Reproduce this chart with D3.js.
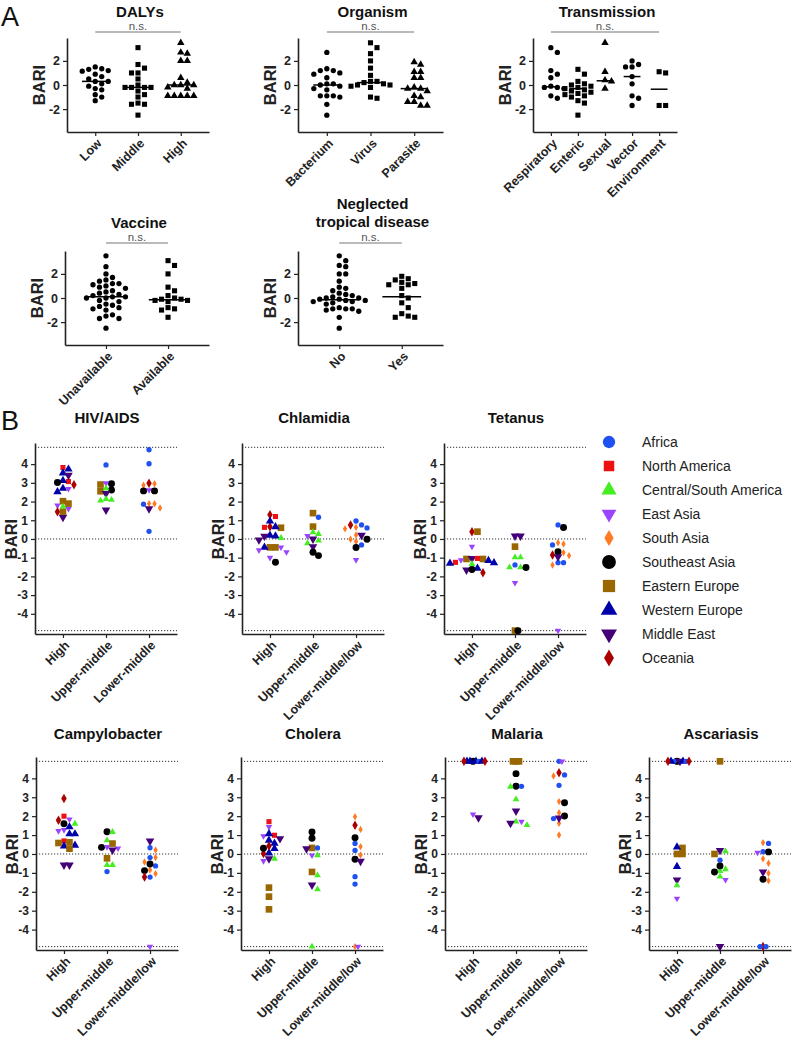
<!DOCTYPE html>
<html><head><meta charset="utf-8">
<script src="https://cdn.jsdelivr.net/npm/d3@7"></script>
<style>
body{margin:0;background:#fff}
svg{display:block}
text{font-family:"Liberation Sans",Arial,Helvetica,sans-serif}
</style>
</head><body>
<svg id="chart" width="800" height="1045"></svg>
<script>
// ---------------- Panel A data ----------------
const dalysCats = ["Low","Middle","High"];
const dalysLow = [1.5,1.35,1.3,1.2,1.15,0.9,0.7,0.5,0.3,0.3,0.1,-0.1,-0.3,-0.4,-0.8,-1.0,-1.3];
const dalysMiddle = [3.1,1.7,1.4,1.0,1.0,0.5,0.0,-0.2,-0.2,-0.2,-0.2,-0.5,-0.8,-1.0,-1.5,-1.6,-1.6,-2.5];
const dalysHigh = [3.5,2.7,2.6,2.0,2.0,0.6,0.2,0.0,0.0,0.0,-0.2,-0.3,-0.9,-0.9,-0.9,-0.9,-0.9];
const dalysMedians = [0.3,-0.2,0.0];

const organismCats = ["Bacterium","Virus","Parasite"];
const organismBacterium = [2.7,1.35,1.2,1.2,1.0,0.9,0.6,0.1,0.1,0.0,-0.1,-0.3,-0.4,-0.9,-0.9,-0.9,-1.0,-1.6,-2.5];
const organismVirus = [3.5,3.1,2.6,2.0,1.4,0.8,0.3,0.3,0.2,0.1,0.0,0.0,-0.1,-0.2,-1.0,-1.1];
const organismParasite = [1.9,1.7,1.1,1.1,0.6,0.6,-0.2,-0.3,-0.3,-0.5,-0.9,-1.0,-1.4,-1.4,-1.7,-1.7];
const organismMedians = [0.0,0.2,-0.3];

const transCats = ["Respiratory","Enteric","Sexual","Vector","Environment"];
const transRespiratory = [3.1,2.7,1.2,0.9,0.6,-0.1,-0.2,-0.2,-0.3,-0.9,-1.1];
const transEnteric = [1.3,0.9,0.3,0.1,0.0,-0.1,-0.2,-0.3,-0.4,-0.5,-0.6,-0.7,-0.8,-0.9,-1.0,-1.3,-1.5,-2.5];
const transSexual = [3.5,1.1,0.4,0.3,-0.3];
const transVector = [2.0,1.7,1.5,1.5,0.7,0.1,-0.9,-1.1,-1.7];
const transEnvironment = [1.1,1.0,-1.7,-1.7];
const transMedians = [-0.15,-0.3,0.35,0.7,-0.35];

const vaccineCats = ["Unavailable","Available"];
const vaccineUnavailable = [3.5,2.6,2.0,1.7,1.5,1.4,1.2,1.2,1.1,1.0,0.9,0.8,0.6,0.5,0.4,0.3,0.2,0.1,0.1,0.0,0.0,-0.2,-0.3,-0.5,-0.6,-0.7,-0.8,-0.9,-1.0,-1.4,-1.5,-1.7,-1.7,-2.5];
const vaccineAvailable = [3.1,2.7,2.0,0.9,0.6,0.2,0.0,-0.1,-0.1,-0.2,-0.2,-0.3,-0.8,-0.9,-1.0,-1.6];
const vaccineMedians = [0.1,-0.15];

const ntdCats = ["No","Yes"];
const ntdNo = [3.5,3.1,2.7,2.6,2.0,2.0,1.4,0.9,0.8,0.6,0.4,0.3,0.2,0.1,0.0,0.0,-0.1,-0.1,-0.2,-0.2,-0.3,-0.3,-0.4,-0.5,-0.8,-0.9,-0.9,-0.9,-1.0,-1.1,-1.6,-2.5];
const ntdYes = [1.8,1.6,1.5,1.3,1.2,1.1,1.1,0.8,0.2,0.0,-0.4,-0.8,-1.3,-1.5,-1.6,-1.6];
const ntdMedians = [-0.15,0.1];

const aTicks = [-2,0,2];

// ---------------- Panel B data ----------------
const regionCodes = ["AF","NA","CSA","EA","SA","SEA","EE","WE","ME","OC"];
const regionNames = ["Africa","North America","Central/South America","East Asia","South Asia","Southeast Asia","Eastern Europe","Western Europe","Middle East","Oceania"];
const regionColors = ["#1f50f0","#ee1111","#44ee22","#9a44ff","#ff7a22","#000000","#996600","#0000aa","#440077","#aa0000"];
const bTicks = [-4,-3,-2,-1,0,1,2,3,4];
const bLimits = [-4.9,0,4.9];
const incomeCatsHiv = ["High","Upper-middle","Lower-middle"];
const incomeCats = ["High","Upper-middle","Lower-middle/low"];

const hivHigh = [["NA",3.82],["NA",3.07],["WE",3.73],["WE",3.52],["WE",3.12],["WE",2.7],["WE",2.52],["ME",3.41],["ME",1.16],["EA",2.68],["EA",1.79],["EA",1.61],["SEA",3.02],["OC",2.9],["OC",1.45],["EE",2.02],["EE",1.89],["EE",1.46],["CSA",1.73]];
const hivUpper = [["AF",3.96],["SEA",2.95],["SEA",2.62],["EE",2.91],["EE",2.55],["EA",2.98],["ME",2.43],["ME",1.55],["CSA",2.7],["CSA",2.09],["CSA",2.05],["CSA",2.14]];
const hivLower = [["AF",4.77],["AF",4.02],["AF",1.86],["AF",0.41],["SA",2.95],["SA",2.87],["SA",1.88],["SA",1.66],["SA",1.89],["OC",2.98],["EA",2.61],["SEA",2.57],["SEA",2.57],["ME",1.62]];

const chlamHigh = [["NA",1.2],["NA",0.62],["OC",1.3],["OC",0.65],["EE",0.6],["EE",-0.45],["EE",-0.45],["WE",0.95],["WE",0.65],["WE",0.2],["WE",0.15],["WE",-0.45],["ME",0.15],["ME",-0.05],["EA",-0.45],["EA",-0.6],["EA",-0.7],["EA",-1.0],["SEA",-1.25],["CSA",0.05]];
const chlamUpper = [["EE",1.38],["EE",0.66],["AF",1.16],["EA",0.16],["CSA",0.36],["CSA",0.27],["CSA",-0.09],["CSA",-0.23],["ME",0.0],["ME",-0.41],["SEA",-0.89],["SEA",-0.71]];
const chlamLower = [["AF",0.75],["AF",0.96],["AF",0.59],["AF",-0.32],["SA",0.62],["SA",0.54],["SA",0.21],["SA",-0.02],["SA",-0.14],["OC",0.75],["ME",0.2],["SEA",-0.02],["SEA",-0.46],["EA",-1.12]];

const tetHigh = [["OC",0.39],["OC",-1.8],["EE",0.39],["EE",-1.07],["EE",-1.07],["EA",-0.41],["EA",-1.13],["ME",-1.04],["ME",-1.66],["NA",-1.04],["NA",-1.25],["WE",-1.16],["WE",-1.27],["WE",-1.3],["WE",-1.57],["CSA",-1.34],["SEA",-1.63]];
const tetUpper = [["ME",0.16],["ME",0.16],["EE",-0.41],["EE",-4.9],["CSA",-0.98],["CSA",-0.98],["CSA",-1.52],["CSA",-1.52],["SEA",-1.52],["SEA",-4.9],["AF",-1.39],["EA",-2.34]];
const tetLower = [["SEA",0.61],["SEA",-0.68],["AF",0.75],["AF",-0.32],["AF",-1.27],["AF",-1.27],["SA",-0.27],["SA",-0.2],["SA",-0.73],["SA",-0.89],["SA",-1.39],["OC",-0.86],["ME",-0.95],["EA",-4.9]];

const campyHigh = [["OC",2.93],["OC",1.78],["NA",2.0],["NA",0.69],["EA",1.83],["EA",1.27],["EA",1.22],["SEA",1.6],["CSA",1.6],["WE",1.43],["WE",1.06],["WE",1.06],["WE",0.42],["WE",0.46],["EE",0.58],["EE",0.62],["EE",0.28],["ME",-0.58],["ME",-0.58]];
const campyUpper = [["SEA",1.18],["SEA",0.35],["CSA",1.16],["CSA",0.72],["CSA",-0.58],["CSA",-0.58],["EE",0.55],["EE",-0.23],["EA",0.37],["EA",0.3],["ME",0.21],["AF",-0.93]];
const campyLower = [["ME",0.69],["AF",0.33],["AF",-0.19],["AF",-0.63],["AF",-1.22],["SA",0.21],["SA",-0.19],["SA",-0.42],["SA",-0.85],["SA",-1.04],["SEA",-0.53],["SEA",-0.88],["OC",-1.22],["EA",-4.9]];

const cholHigh = [["NA",1.71],["NA",0.99],["EA",1.43],["EA",0.95],["EA",-0.37],["WE",1.07],["WE",0.72],["WE",0.56],["WE",0.28],["WE",0.05],["ME",0.81],["ME",-0.25],["OC",0.42],["OC",0.02],["SEA",0.3],["CSA",-0.25],["EE",-1.78],["EE",-2.26],["EE",-2.93]];
const cholUpper = [["SEA",1.16],["SEA",0.83],["EE",0.32],["EE",-0.95],["AF",0.32],["ME",0.28],["EA",-0.07],["CSA",-0.07],["CSA",-1.13],["CSA",-1.87],["ME",-1.64],["CSA",-4.9]];
const cholLower = [["SA",1.97],["SA",1.3],["SA",0.39],["SA",-0.05],["OC",1.52],["SEA",0.86],["SEA",-0.28],["AF",0.56],["AF",0.19],["AF",-1.2],["AF",-1.59],["ME",-0.39],["SA",-4.9],["EA",-4.9]];

const malHigh = [["SEA",4.9],["WE",4.9],["WE",4.9],["AF",4.9],["WE",4.9],["WE",4.9],["OC",4.9],["OC",4.9],["ME",1.92],["EA",2.1]];
const malUpper = [["EE",4.9],["EE",4.9],["EE",4.9],["SEA",4.25],["SEA",3.58],["AF",3.58],["CSA",3.56],["CSA",2.89],["CSA",1.53],["CSA",1.71],["ME",2.27],["ME",1.62],["EA",1.71]];
const malLower = [["AF",4.9],["AF",4.18],["AF",3.63],["AF",1.87],["EA",4.9],["SA",4.12],["SA",2.77],["SA",2.18],["SA",1.62],["SA",1.0],["OC",4.3],["SEA",2.71],["SEA",2.01],["ME",1.9]];

const ascHigh = [["SEA",4.9],["ME",4.9],["AF",4.9],["WE",4.9],["WE",4.9],["AF",4.9],["OC",4.9],["OC",4.9],["EE",0.32],["EE",0.0],["EE",0.0],["WE",0.37],["WE",-0.67],["ME",-1.37],["CSA",-1.66],["EA",-2.36]];
const ascUpper = [["EE",4.9],["EE",0.0],["CSA",0.14],["CSA",-0.81],["CSA",-1.2],["CSA",-0.9],["ME",0.19],["ME",-4.9],["AF",-0.33],["SEA",-0.63],["SEA",-0.95],["EA",-1.37]];
const ascLower = [["SA",0.6],["SA",-0.25],["SA",-0.49],["SA",-1.02],["SA",-1.41],["AF",0.56],["AF",0.12],["EA",0.07],["SEA",0.11],["SEA",-1.34],["ME",-0.95],["OC",-4.9],["AF",-4.9],["AF",-4.9]];

// ---------------- helpers ----------------
const svg = d3.select("#chart");
const FONT = '"Liberation Sans",Arial,Helvetica,sans-serif';

const triUp = d3.symbolTriangle;
const triDown = { draw(ctx, size) { const y = Math.sqrt(size / (3*Math.sqrt(3))); ctx.moveTo(0, 2*y); ctx.lineTo(-Math.sqrt(3)*y, -y); ctx.lineTo(Math.sqrt(3)*y, -y); ctx.closePath(); } };
const regionShapes = [d3.symbolCircle, d3.symbolSquare, triUp, triDown, d3.symbolDiamond, d3.symbolCircle, d3.symbolSquare, triUp, triDown, d3.symbolDiamond];
const regionSizes = [22, 26, 20, 18, 16, 38, 44, 30, 32, 26];
const regionLegendSizes = [120, 110, 100, 95, 75, 150, 150, 120, 110, 85];
const aShapes = { circle: d3.symbolCircle, square: d3.symbolSquare, triangle: triUp };
const aSizes = { circle: 22, square: 26, triangle: 24 };

function swarm(values, yScale, step, minDy, tightStep, limit) {
  const order = values.map((d, i) => i).sort((a, b) => values[b] - values[a]);
  const placed = [];
  const off = new Array(values.length).fill(0);
  order.forEach(i => {
    const py = yScale(values[i]);
    const st = (limit && Math.abs(values[i]) >= limit) ? tightStep : step;
    for (let k = 0; k < 60; k++) {
      const m = k === 0 ? 0 : (k % 2 ? (k + 1) / 2 : -k / 2);
      const px = m * st;
      const hit = placed.some(p => Math.abs(p.y - py) < minDy && Math.abs(p.x - px) < Math.min(st, p.st) * 0.95);
      if (!hit) { placed.push({ x: px, y: py, st }); off[i] = px; break; }
    }
  });
  return off;
}

function styleAxis(g, fs) {
  g.select(".domain").attr("stroke", "#222").attr("stroke-width", 1.6);
  g.selectAll(".tick line").attr("stroke", "#222").attr("stroke-width", 1.2);
  g.selectAll(".tick text").attr("font-family", FONT).attr("font-weight", "bold").attr("font-size", fs).attr("fill", "#222");
}

function catLabels(g, cats, x, yBase, fs) {
  g.selectAll(null).data(cats).join("text")
    .attr("transform", d => `translate(${x(d) + 4},${yBase + 9}) rotate(-45)`)
    .attr("text-anchor", "end").attr("dy", "0.35em")
    .attr("font-family", FONT).attr("font-weight", "bold").attr("font-size", fs).attr("fill", "#222")
    .text(d => d);
}

// ---------------- Panel A ----------------
function drawA(cfg) {
  const g = svg.append("g");
  const x = d3.scalePoint().domain(cfg.cats).range([cfg.left, cfg.right]).padding(0.66);
  const y = d3.scaleLinear().domain([-3.9, 3.9]).range([cfg.bottom, cfg.bottom - 94]);
  const gy = g.append("g").attr("transform", `translate(${cfg.left},0)`)
    .call(d3.axisLeft(y).tickValues(aTicks).tickSize(4).tickSizeOuter(0).tickFormat(d => String(d)));
  styleAxis(gy, 12.5);
  const gx = g.append("g").attr("transform", `translate(0,${cfg.bottom})`)
    .call(d3.axisBottom(x).tickSize(4).tickSizeOuter(0).tickFormat(""));
  styleAxis(gx, 12);
  catLabels(g, cfg.cats, x, cfg.bottom, 12.5);
  g.append("text").attr("transform", `translate(${cfg.left - 28},${y(0)}) rotate(-90)`)
    .attr("text-anchor", "middle").attr("dy", "0.35em")
    .attr("font-family", FONT).attr("font-weight", "bold").attr("font-size", 16.5).attr("fill", "#222").text("BARI");
  const cx = (cfg.left + cfg.right) / 2 + 2;
  cfg.title.forEach((t, i) => {
    g.append("text").attr("x", cx).attr("y", cfg.titleY + i * 18).attr("text-anchor", "middle")
      .attr("font-family", FONT).attr("font-weight", "bold").attr("font-size", 15).attr("fill", "#111").text(t);
  });
  const first = x(cfg.cats[0]), last = x(cfg.cats[cfg.cats.length - 1]);
  g.append("line").attr("x1", first).attr("x2", last).attr("y1", cfg.nsY).attr("y2", cfg.nsY)
    .attr("stroke", "#777").attr("stroke-width", 1.2);
  g.append("text").attr("x", (first + last) / 2).attr("y", cfg.nsY - 2).attr("text-anchor", "middle")
    .attr("font-family", FONT).attr("font-size", 11.5).attr("fill", "#555").text("n.s.");
  const step = x.step();
  cfg.groups.forEach((vals, gi) => {
    const off = swarm(vals, y, 6.5, 5.5);
    const sym = d3.symbol().type(aShapes[cfg.shapes[gi]]).size(aSizes[cfg.shapes[gi]]);
    g.append("g").selectAll("path").data(vals).join("path")
      .attr("transform", (d, i) => `translate(${x(cfg.cats[gi]) + off[i]},${y(d)})`)
      .attr("d", sym()).attr("fill", "#000");
    const m = cfg.medians[gi];
    g.append("line").attr("x1", x(cfg.cats[gi]) - step * 0.31).attr("x2", x(cfg.cats[gi]) + step * 0.31)
      .attr("y1", y(m)).attr("y2", y(m)).attr("stroke", "#000").attr("stroke-width", 1.5);
  });
}

drawA({ cats: dalysCats, groups: [dalysLow, dalysMiddle, dalysHigh], medians: dalysMedians, shapes: ["circle","square","triangle"],
  left: 67, right: 209, bottom: 132, title: ["DALYs"], titleY: 17, nsY: 32 });
drawA({ cats: organismCats, groups: [organismBacterium, organismVirus, organismParasite], medians: organismMedians, shapes: ["circle","square","triangle"],
  left: 298, right: 443, bottom: 132, title: ["Organism"], titleY: 17, nsY: 32 });
drawA({ cats: transCats, groups: [transRespiratory, transEnteric, transSexual, transVector, transEnvironment], medians: transMedians, shapes: ["circle","square","triangle","circle","square"],
  left: 533, right: 677, bottom: 132, title: ["Transmission"], titleY: 17, nsY: 32 });
drawA({ cats: vaccineCats, groups: [vaccineUnavailable, vaccineAvailable], medians: vaccineMedians, shapes: ["circle","square"],
  left: 65, right: 209, bottom: 345, title: ["Vaccine"], titleY: 228, nsY: 243 });
drawA({ cats: ntdCats, groups: [ntdNo, ntdYes], medians: ntdMedians, shapes: ["circle","square"],
  left: 298, right: 443, bottom: 345, title: ["Neglected", "tropical disease"], titleY: 209, nsY: 243 });

svg.append("text").attr("x", 1).attr("y", 26).attr("font-family", FONT).attr("font-size", 27).attr("fill", "#111").text("A");
svg.append("text").attr("x", 1).attr("y", 430).attr("font-family", FONT).attr("font-size", 27).attr("fill", "#111").text("B");

// ---------------- Panel B ----------------
function drawB(cfg) {
  const g = svg.append("g");
  const x = d3.scalePoint().domain(cfg.cats).range([cfg.left, cfg.left + 142]).padding(0.65);
  const y = d3.scaleLinear().domain([-5.08, 5.13]).range([cfg.bottom, cfg.top]);
  g.selectAll(null).data(bLimits).join("line")
    .attr("x1", cfg.left).attr("x2", cfg.left + 142).attr("y1", d => y(d)).attr("y2", d => y(d))
    .attr("stroke", "#333").attr("stroke-width", 1).attr("stroke-dasharray", "1.2,1.8");
  const gy = g.append("g").attr("transform", `translate(${cfg.left},0)`)
    .call(d3.axisLeft(y).tickValues(bTicks).tickSize(4).tickSizeOuter(0).tickFormat(d => String(d)));
  styleAxis(gy, 12);
  const gx = g.append("g").attr("transform", `translate(0,${cfg.bottom})`)
    .call(d3.axisBottom(x).tickSize(4).tickSizeOuter(0).tickFormat(""));
  styleAxis(gx, 12);
  catLabels(g, cfg.cats, x, cfg.bottom, 12.5);
  g.append("text").attr("transform", `translate(${cfg.left - 24},${y(0)}) rotate(-90)`)
    .attr("text-anchor", "middle").attr("dy", "0.35em")
    .attr("font-family", FONT).attr("font-weight", "bold").attr("font-size", 16.5).attr("fill", "#222").text("BARI");
  g.append("text").attr("x", cfg.left + 72).attr("y", cfg.titleY).attr("text-anchor", "middle")
    .attr("font-family", FONT).attr("font-weight", "bold").attr("font-size", 15).attr("fill", "#111").text(cfg.title);
  cfg.groups.forEach((pts, gi) => {
    const vals = pts.map(p => p[1]);
    const off = swarm(vals, y, 5.5, 5, 3, 4.85);
    g.append("g").selectAll("path").data(pts).join("path")
      .attr("transform", (d, i) => `translate(${x(cfg.cats[gi]) + off[i]},${y(d[1])})`)
      .attr("d", d => { const r = regionCodes.indexOf(d[0]); return d3.symbol().type(regionShapes[r]).size(regionSizes[r])(); })
      .attr("fill", d => regionColors[regionCodes.indexOf(d[0])]);
  });
}

drawB({ title: "HIV/AIDS", cats: incomeCatsHiv, groups: [hivHigh, hivUpper, hivLower], left: 35, top: 443, bottom: 634, titleY: 423 });
drawB({ title: "Chlamidia", cats: incomeCats, groups: [chlamHigh, chlamUpper, chlamLower], left: 242, top: 443, bottom: 634, titleY: 423 });
drawB({ title: "Tetanus", cats: incomeCats, groups: [tetHigh, tetUpper, tetLower], left: 444, top: 443, bottom: 634, titleY: 423 });
drawB({ title: "Campylobacter", cats: incomeCats, groups: [campyHigh, campyUpper, campyLower], left: 36, top: 757, bottom: 950, titleY: 739 });
drawB({ title: "Cholera", cats: incomeCats, groups: [cholHigh, cholUpper, cholLower], left: 241, top: 757, bottom: 950, titleY: 739 });
drawB({ title: "Malaria", cats: incomeCats, groups: [malHigh, malUpper, malLower], left: 445, top: 757, bottom: 950, titleY: 739 });
drawB({ title: "Ascariasis", cats: incomeCats, groups: [ascHigh, ascUpper, ascLower], left: 649, top: 757, bottom: 950, titleY: 739 });

// legend
const lg = svg.append("g");
const ly = d3.scalePoint().domain(regionNames).range([442, 658]);
lg.selectAll("path").data(regionNames).join("path")
  .attr("transform", d => `translate(609,${ly(d)})`)
  .attr("d", (d, i) => d3.symbol().type(regionShapes[i]).size(regionLegendSizes[i])())
  .attr("fill", (d, i) => regionColors[i]);
lg.selectAll("text").data(regionNames).join("text")
  .attr("x", 642).attr("y", d => ly(d)).attr("dy", "0.35em")
  .attr("font-family", FONT).attr("font-size", 14).attr("fill", "#222").text(d => d);
</script>
</body></html>
